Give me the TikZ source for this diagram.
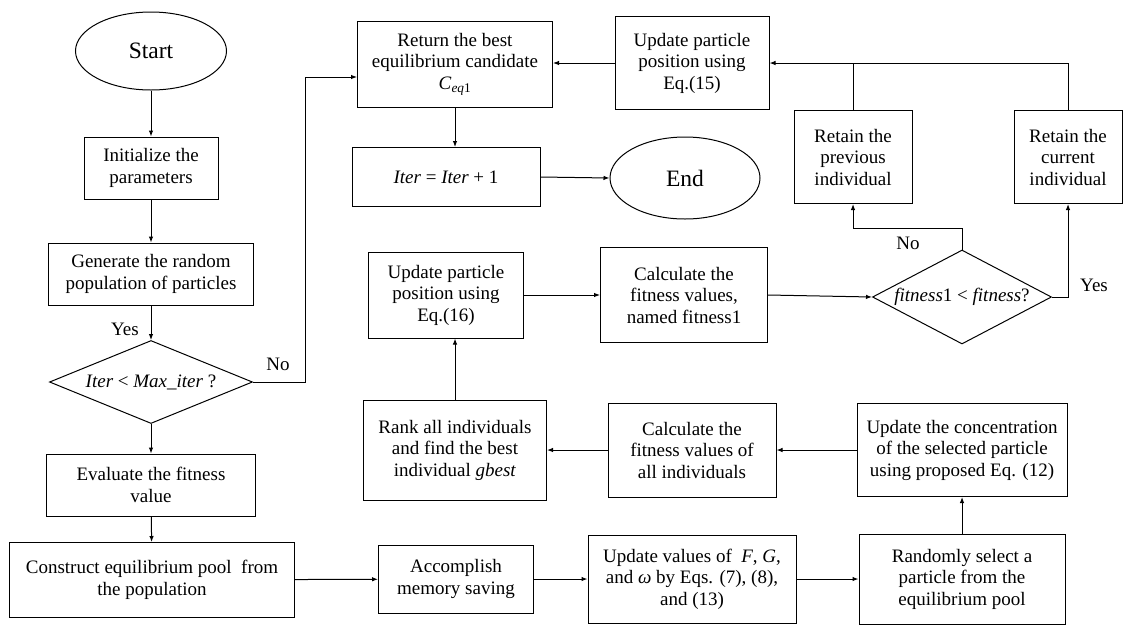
\documentclass[tikz,border=0pt]{standalone}
\usepackage{fontspec}
\setmainfont{Liberation Serif}
\usetikzlibrary{shapes.geometric,arrows.meta}
\begin{document}
\begin{tikzpicture}[x=1pt,y=-1pt,
  every node/.style={font=\fontsize{19}{21.5}\selectfont},
  box/.style={draw, line width=1pt, rectangle, align=center, inner sep=1pt},
  oval/.style={draw, line width=1pt, ellipse, inner sep=0pt, font=\fontsize{23.5}{26}\selectfont},
  dia/.style={draw, line width=1pt, diamond, inner sep=0pt},
  arr/.style={draw, line width=1pt, -{Latex[length=6pt,width=4.5pt]}},
  ln/.style={draw, line width=1pt},
  lbl/.style={inner sep=0pt}
]
\useasboundingbox (0,0) rectangle (1123,627);

% left column
\node[oval, minimum width=151pt, minimum height=78pt] (start) at (151,51) {Start};
\node[box, minimum width=134pt, minimum height=62pt] (init) at (151,168) {Initialize the\\parameters};
\node[box, minimum width=205pt, minimum height=62pt] (gen) at (151,274) {Generate the random\\population of particles};
\node[dia, minimum width=203pt, minimum height=83pt, aspect=2.4] (cond) at (151,382) {\textit{Iter} < \textit{Max\_iter} ?};
\node[box, minimum width=209pt, minimum height=62pt] (eval) at (151,485) {Evaluate the fitness\\value};
\node[box, minimum width=285pt, minimum height=75pt] (cons) at (152,580) {Construct equilibrium pool\ \ from\\the population};

% bottom row
\node[box, minimum width=155pt, minimum height=68pt] (acc) at (456,579) {Accomplish\\memory saving};
\node[box, minimum width=208pt, minimum height=88pt] (upd) at (692,579) {Update values of \ \textit{F}, \textit{G},\\and \textit{ω} by Eqs. (7), (8),\\and (13)};
\node[box, minimum width=206pt, minimum height=90pt] (rand) at (962,579) {Randomly select a\\particle from the\\equilibrium pool};

% second row from bottom
\node[box, minimum width=210pt, minimum height=93pt] (conc) at (962,450) {Update the concentration\\of the selected particle\\using proposed Eq. (12)};
\node[box, minimum width=168pt, minimum height=94pt] (calcall) at (692,450) {Calculate the\\fitness values of\\all individuals};
\node[box, minimum width=183pt, minimum height=100pt] (rank) at (455,450) {Rank all individuals\\and find the best\\individual \textit{gbest}};

% middle row
\node[box, minimum width=155pt, minimum height=86pt] (u16) at (446,295) {Update particle\\position using\\Eq.(16)};
\node[box, minimum width=167pt, minimum height=95pt] (fit1) at (684,295) {Calculate the\\fitness values,\\named fitness1};
\node[dia, minimum width=179pt, minimum height=94pt, aspect=1.9] (cmp) at (962,297) {\textit{fitness}1 < \textit{fitness}?};

% retain boxes
\node[box, minimum width=118pt, minimum height=93pt] (prev) at (853,157) {Retain the\\previous\\individual};
\node[box, minimum width=108pt, minimum height=93pt] (curr) at (1068,157) {Retain the\\current\\individual};

% top row
\node[box, minimum width=154pt, minimum height=93pt] (u15) at (692,63) {Update particle\\position using\\Eq.(15)};
\node[box, minimum width=195pt, minimum height=86pt] (ret) at (455,64) {Return the best\\equilibrium candidate\\\textit{C}\textsubscript{\textit{eq}1}};
\node[box, minimum width=188pt, minimum height=59pt] (iter) at (446,177) {\textit{Iter} = \textit{Iter} + 1};
\node[oval, minimum width=150pt, minimum height=82pt] (end) at (685,178) {End};

% labels
\node[lbl] (yes1) at (125,329) {Yes};
\node[lbl] (no1) at (278,364) {No};
\node[lbl] (no2) at (908,243) {No};
\node[lbl] (yes2) at (1094,285) {Yes};

% connectors
\draw[arr] (start) -- (init);
\draw[arr] (init) -- (gen);
\draw[arr] (gen) -- (cond);
\draw[arr] (cond) -- (eval);
\draw[arr] (eval) -- (cons);
\coordinate (c1) at (305,77);
\draw[arr] (cond.east) -| (c1) -- (c1 -| ret.west);
\draw[arr] (ret.south) -- (ret.south |- iter.north);
\draw[arr] (iter.east) -- (end.west);
\draw[arr] (u15.west) -- (u15.west -| ret.east);
\draw[arr] (curr.north) |- (u15.east);
\draw[ln] (prev.north) -- (prev.north |- u15.east);
\coordinate (k) at (962,228);
\draw[arr] (cmp.north) -- (k) -| (prev.south);
\draw[arr] (cmp.east) -| (curr.south);
\draw[arr] (u16.east) -- (fit1.west);
\draw[arr] (fit1.east) -- (cmp.west);
\draw[arr] (rank.north) -- (rank.north |- u16.south);
\draw[arr] (cons) -- (acc);
\draw[arr] (acc) -- (upd);
\draw[arr] (upd) -- (rand);
\draw[arr] (rand) -- (conc);
\draw[arr] (conc) -- (calcall);
\draw[arr] (calcall) -- (rank);
\end{tikzpicture}
\end{document}
